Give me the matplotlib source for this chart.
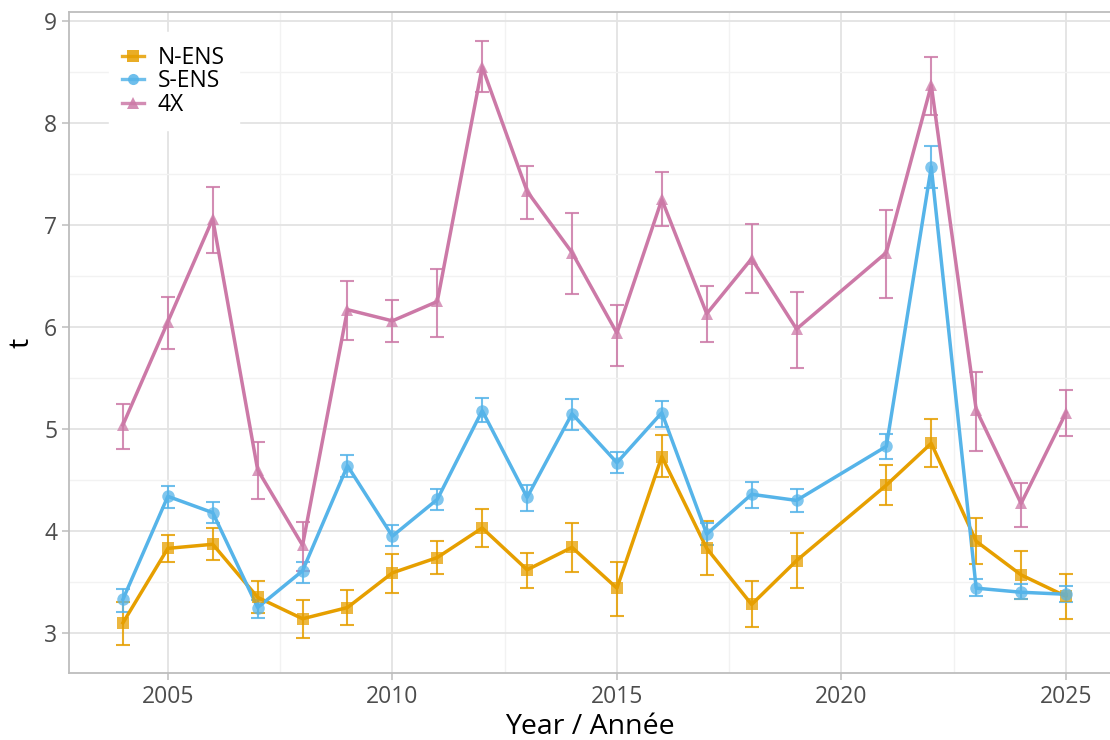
import matplotlib
matplotlib.use("Agg")
import matplotlib.pyplot as plt
import numpy as np

plt.rcParams['font.family'] = ['Open Sans', 'DejaVu Sans']

years = [2004, 2005, 2006, 2007, 2008, 2009, 2010, 2011, 2012, 2013, 2014,
         2015, 2016, 2017, 2018, 2019, 2021, 2022, 2023, 2024, 2025]

n_ens = [3.10, 3.83, 3.87, 3.35, 3.14, 3.25, 3.59, 3.74, 4.03, 3.62, 3.84,
         3.44, 4.73, 3.83, 3.28, 3.71, 4.45, 4.86, 3.90, 3.57, 3.36]
n_ens_lo = [2.88, 3.70, 3.72, 3.20, 2.95, 3.08, 3.39, 3.58, 3.84, 3.44, 3.60,
            3.17, 4.53, 3.57, 3.06, 3.44, 4.26, 4.63, 3.68, 3.33, 3.14]
n_ens_hi = [3.30, 3.96, 4.03, 3.51, 3.32, 3.42, 3.77, 3.90, 4.22, 3.78, 4.08,
            3.70, 4.94, 4.10, 3.51, 3.98, 4.65, 5.10, 4.13, 3.80, 3.58]

s_ens = [3.33, 4.34, 4.18, 3.25, 3.61, 4.64, 3.95, 4.31, 5.18, 4.33, 5.15,
         4.67, 5.16, 3.97, 4.36, 4.30, 4.83, 7.57, 3.44, 3.40, 3.38]
s_ens_lo = [3.21, 4.23, 4.08, 3.15, 3.49, 4.53, 3.85, 4.21, 5.07, 4.20, 4.99,
            4.57, 5.02, 3.86, 4.23, 4.19, 4.71, 7.36, 3.36, 3.33, 3.30]
s_ens_hi = [3.43, 4.44, 4.28, 3.32, 3.70, 4.75, 4.06, 4.41, 5.30, 4.45, 5.29,
            4.77, 5.27, 4.08, 4.48, 4.41, 4.95, 7.77, 3.53, 3.48, 3.46]

x4 = [5.04, 6.05, 7.06, 4.60, 3.86, 6.17, 6.06, 6.25, 8.55, 7.33, 6.73,
      5.94, 7.25, 6.13, 6.67, 5.98, 6.73, 8.37, 5.19, 4.27, 5.16]
x4_lo = [4.80, 5.78, 6.73, 4.31, 3.61, 5.87, 5.85, 5.90, 8.30, 7.06, 6.32,
         5.62, 6.99, 5.85, 6.33, 5.60, 6.28, 8.08, 4.78, 4.04, 4.93]
x4_hi = [5.25, 6.29, 7.37, 4.87, 4.09, 6.45, 6.26, 6.57, 8.80, 7.58, 7.12,
         6.22, 7.52, 6.40, 7.01, 6.34, 7.15, 8.65, 5.56, 4.47, 5.38]

series = [
    ("N-ENS", n_ens, n_ens_lo, n_ens_hi, "#E69F00", "s"),
    ("S-ENS", s_ens, s_ens_lo, s_ens_hi, "#56B4E9", "o"),
    ("4X", x4, x4_lo, x4_hi, "#CC79A7", "^"),
]

fig = plt.figure(figsize=(11.1, 7.4), dpi=100)
ax = fig.add_axes([0.0622, 0.0905, 0.9378, 0.8933])

ax.set_xlim(2002.8, 2025.98)
ax.set_ylim(2.608, 9.088)

ax.set_xticks([2005, 2010, 2015, 2020, 2025])
ax.set_xticks([2007.5, 2012.5, 2017.5, 2022.5], minor=True)
ax.set_yticks([3, 4, 5, 6, 7, 8, 9])
ax.set_yticks([3.5, 4.5, 5.5, 6.5, 7.5, 8.5], minor=True)

ax.grid(which='major', color='#e3e3e3', linewidth=1.3)
ax.grid(which='minor', color='#f2f2f2', linewidth=1.0)
ax.set_axisbelow(True)

for sp in ['left', 'bottom', 'top']:
    ax.spines[sp].set_color('#bdbdbd')
    ax.spines[sp].set_linewidth(1.3)
ax.spines['right'].set_visible(False)

ax.tick_params(axis='both', which='major', colors='#bdbdbd', length=5, width=1.1,
               labelcolor='#4d4d4d', labelsize=16.5)
ax.tick_params(axis='both', which='minor', length=0)

handles = []
for name, v, lo, hi, col, mk in series:
    v = np.array(v); lo = np.array(lo); hi = np.array(hi)
    ax.errorbar(years, v, yerr=[v - lo, hi - v], fmt='none', ecolor=col,
                elinewidth=1.5, capsize=5, capthick=1.5, alpha=0.85, zorder=2)
    ax.plot(years, v, color=col, linewidth=2.5, zorder=3)
    ax.plot(years, v, linestyle='none', marker=mk, markersize=9,
            color=col, alpha=0.75, markeredgewidth=0, zorder=4)
    h, = ax.plot([], [], color=col, linewidth=2.4, marker=mk, markersize=8,
                 markeredgewidth=0, alpha=0.85, label=name)
    handles.append(h)

leg = ax.legend(handles=handles, loc='upper left', bbox_to_anchor=(0.038, 0.97),
                frameon=True, prop={'size': 16.5}, handlelength=0.95,
                labelspacing=-0.02, borderpad=0.6, handletextpad=0.6,
                fancybox=False, borderaxespad=0.0)
leg.get_frame().set_facecolor('white')
leg.get_frame().set_edgecolor('white')
leg.get_frame().set_alpha(1)

ax.set_xlabel("Year / Année", fontsize=20.5, color='black', labelpad=3)
ax.set_ylabel("t", fontsize=20.5, color='black', labelpad=6)

fig.savefig("out.png", dpi=100)
